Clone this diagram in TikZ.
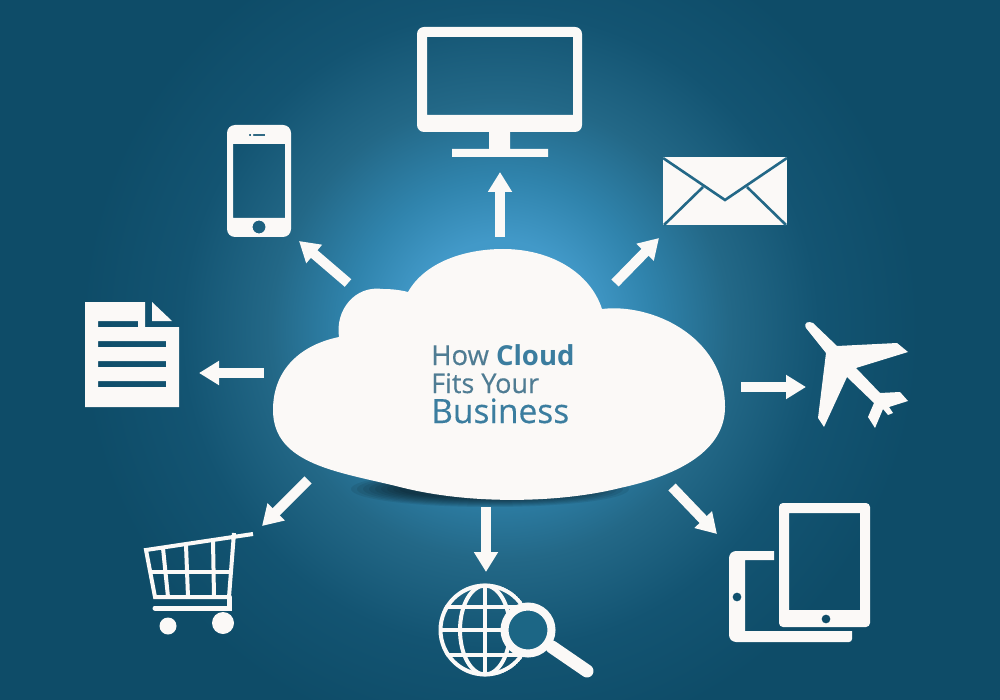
\documentclass[tikz,border=0pt]{standalone}
\usepackage{fontspec}
\setmainfont{Open Sans}
\newfontfamily\cloudfont{Open Sans}[FakeBold=0.4]
\usetikzlibrary{arrows.meta}
\definecolor{edgeblue}{HTML}{0E4C68}
\definecolor{midblue}{HTML}{236887}
\definecolor{deepblue}{HTML}{135472}
\definecolor{softblue}{HTML}{3084AD}
\definecolor{glowblue}{HTML}{4299C8}
\definecolor{paper}{HTML}{FBF9F7}
\definecolor{lensblue}{HTML}{1C6685}
\definecolor{inkblue}{HTML}{3B7D9F}
\definecolor{inkgrey}{HTML}{4F7C93}
\pgfdeclareradialshading{glow}{\pgfpoint{0bp}{0bp}}{color(0bp)=(glowblue); color(3.2bp)=(glowblue); color(5.4bp)=(softblue); color(8.2bp)=(midblue); color(11.4bp)=(deepblue); color(15bp)=(edgeblue); color(50bp)=(edgeblue)}
\tikzset{
  icon/.style={fill=paper,even odd rule},
  bar/.style={draw=paper,line width=4pt},
  flow/.style={draw=paper,line width=10pt,-{Triangle[length=20pt,width=23pt]}},
  crease/.style={draw=midblue,line width=2.6pt},
  lettering/.style={anchor=base west,inner sep=0pt,text=inkgrey}
}
\begin{document}
\begin{tikzpicture}[x=1pt,y=-1pt]
  \useasboundingbox (0,0) rectangle (1000,700);
  \shade[shading=glow] (500,330) circle (700pt);
  \foreach \i in {1,...,9}
    \fill[black,opacity=0.08] (490,489) ellipse ({(145-6*\i)*1pt} and {(19-\i)*1pt});
  \fill[paper] (408,292) .. controls (425,262) and (465,249) .. (503,249)
    .. controls (550,249) and (590,272) .. (602,309)
    .. controls (650,303) and (725,335) .. (725,407)
    .. controls (725,450) and (680,475) .. (620,488)
    .. controls (560,503) and (470,505) .. (400,487)
    .. controls (340,472) and (273,465) .. (273,410)
    .. controls (273,370) and (300,345) .. (339,337)
    .. controls (335,310) and (355,285) .. (383,289)
    .. controls (392,289) and (400,290) .. (408,292) -- cycle;
  \node[lettering,font=\fontsize{27.5}{28}\cloudfont] (howcloud) at (431,365) {How {\setmainfont{Open Sans}\bfseries\color{inkblue}Cloud}};
  \node[lettering,font=\fontsize{27}{28}\cloudfont] (fitsyour) at (431,393) {Fits Your};
  \node[lettering,font=\fontsize{33.5}{34}\cloudfont,text=inkblue] (business) at (431,423) {Business};
  \coordinate (upTail) at (500,237);        \coordinate (upTip) at (500,172);
  \coordinate (mailTail) at (615,283);      \coordinate (mailTip) at (659,238);
  \coordinate (phoneTail) at (348,283);     \coordinate (phoneTip) at (299,241);
  \coordinate (docTail) at (264,373);       \coordinate (docTip) at (199,373);
  \coordinate (planeTail) at (741,387);     \coordinate (planeTip) at (806,387);
  \coordinate (cartTail) at (308,480);      \coordinate (cartTip) at (262,526);
  \coordinate (globeTail) at (486,507);     \coordinate (globeTip) at (486,572);
  \coordinate (tabletTail) at (672,487);    \coordinate (tabletTip) at (717,534);
  \foreach \target in {up,mail,phone,doc,plane,cart,globe,tablet}
    \draw[flow] (\target Tail) -- (\target Tip);
  \fill[icon] [rounded corners=7pt] (417,27) rectangle (582,132)
    [sharp corners] (427,37) rectangle (573,115);
  \fill[paper] (489,130) rectangle (510,151) (452,149) rectangle (548,157);
  \fill[icon] [rounded corners=8pt] (227,125) rectangle (291,237)
    [sharp corners] (233,144) rectangle (285,218) (259,227) circle (6.5pt)
    (253,134.2) rectangle (265,135.8) (249,134.2) rectangle (251,135.8);
  \fill[paper] (663,157) rectangle (787,225);
  \draw[crease] (663,158) -- (725,200) -- (787,158);
  \draw[crease] (703,187) -- (664,225);
  \draw[crease] (747,187) -- (786,225);
  \fill[paper] (806,328) .. controls (803,322) and (809,321) .. (813,323) -- (837,346) -- (897,343)
    -- (908,352) -- (856,368) -- (880,393) -- (900,392) -- (908,401) -- (889,407)
    -- (893,413) -- (888,415) -- (883,409) -- (875,428) -- (868,417) -- (874,403)
    -- (847,377) -- (824,427) -- (818,418) -- (826,353) -- cycle;
  \fill[icon] [rounded corners=4pt] (779,503) rectangle (870,627)
    [sharp corners] (789,513) rectangle (860,610) (826,619) circle (4.5pt);
  \fill[icon] [rounded corners=3pt] (774,551) -- (733,551) -- (729,555) -- (729,638) -- (733,642) -- (852,642)
    [sharp corners] -- (852,631) -- (745,631) -- (745,560) -- (774,560) -- cycle
    (737,597) circle (4.5pt);
  \fill[icon] (85,302) -- (145,302) -- (145,327) -- (179,327) -- (179,407) -- (85,407) -- cycle
    (98,321) rectangle (138,327) (98,341) rectangle (166,347)
    (98,361) rectangle (166,367) (98,381) rectangle (166,387);
  \fill[paper] (152,302) -- (172,321) -- (152,321) -- cycle;
  \draw[bar] (253,534) -- (146,550) -- (155,597) -- (229,597) -- (234,533);
  \draw[bar] (152,572) -- (232,572);
  \draw[bar] (163,548) -- (168,597);
  \draw[bar] (186,545) -- (188,597);
  \draw[bar] (213,540) -- (214,597);
  \draw[bar,line width=5pt,line cap=round] (155,608) -- (229,608) -- (229,597);
  \fill[paper] (168,626) circle (8.5pt) (223,623) circle (11pt);
  \begin{scope}
    \clip (485,630) circle (46.5pt);
    \draw[bar] (485,630) circle (44.5pt);
    \draw[bar] (485,630) ellipse (25pt and 44.5pt);
    \draw[bar] (485,585) -- (485,675);
    \draw[bar] (440,607) -- (530,607);
    \draw[bar] (440,630) -- (530,630);
    \draw[bar] (440,655) -- (530,655);
  \end{scope}
  \draw[draw=paper,line width=8pt,fill=lensblue] (528,630) circle (23.5pt);
  \draw[draw=paper,line width=13pt,line cap=round] (552,647) -- (587,671);
\end{tikzpicture}
\end{document}
